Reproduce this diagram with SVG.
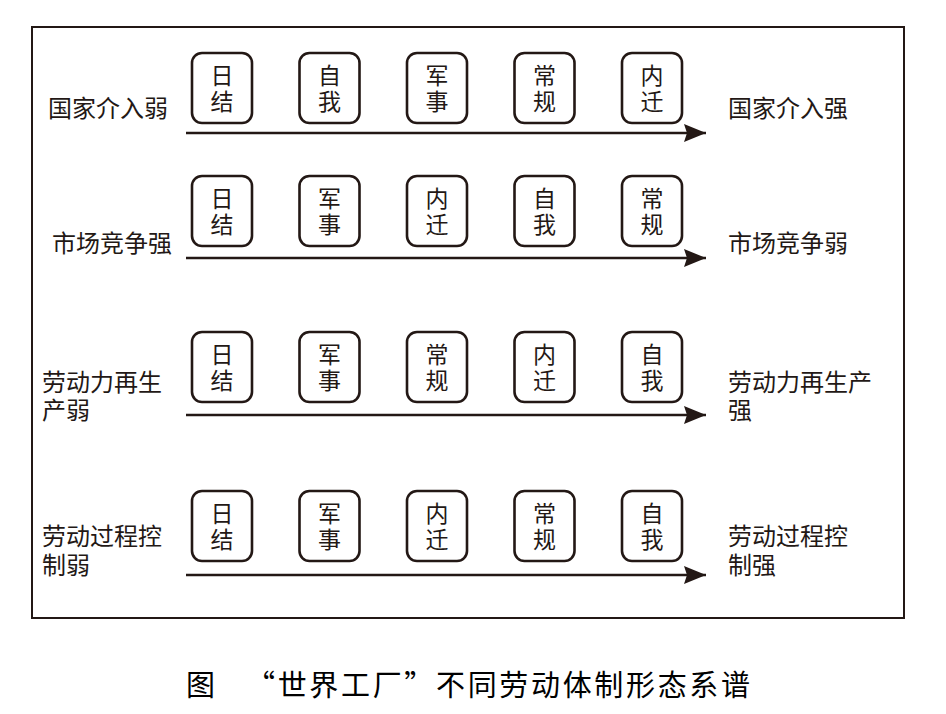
<svg xmlns="http://www.w3.org/2000/svg" width="946" height="714" viewBox="0 0 946 714">
<style>
.frame{fill:#fff;stroke:#231815;stroke-width:2}
.box rect{fill:#fff;stroke:#231815;stroke-width:2.6}
.box text{font-family:"Noto Sans CJK SC","Noto Sans",sans-serif;font-size:23px;fill:#231815;text-anchor:middle;writing-mode:vertical-rl;text-orientation:upright;letter-spacing:3px}
.lbl{font-family:"Noto Sans CJK SC","Noto Sans",sans-serif;font-size:24px;fill:#231815}
.conn line{stroke:#231815;stroke-width:2.6}
.cap{font-family:"Noto Sans CJK SC","Noto Sans",sans-serif;font-size:29px;fill:#000}
</style>
<defs>
<marker id="ah" markerUnits="userSpaceOnUse" markerWidth="24" markerHeight="20" viewBox="0 0 24 20" refX="23" refY="10" orient="auto">
<path d="M1,1 L23,10 L1,19 L4,10 Z" fill="#231815"/>
</marker>
</defs>
<rect width="946" height="714" fill="#fff"/>
<rect class="frame" x="32" y="27" width="872" height="591"/>

<g class="conn">
<line x1="186" y1="133" x2="706" y2="133" marker-end="url(#ah)"/>
<line x1="186" y1="258" x2="706" y2="258" marker-end="url(#ah)"/>
<line x1="186" y1="415" x2="706" y2="415" marker-end="url(#ah)"/>
<line x1="186" y1="575" x2="706" y2="575" marker-end="url(#ah)"/>
</g>

<!-- Row 1 -->
<g id="r1-left"><text class="lbl" x="48" y="117">国家介入弱</text></g>
<g id="r1-right"><text class="lbl" x="728" y="117">国家介入强</text></g>
<g id="r1-b1" class="box"><rect x="192" y="53" width="60" height="70" rx="10"/><text x="222" y="90">日结</text></g>
<g id="r1-b2" class="box"><rect x="299.5" y="53" width="60" height="70" rx="10"/><text x="329.5" y="90">自我</text></g>
<g id="r1-b3" class="box"><rect x="407" y="53" width="60" height="70" rx="10"/><text x="437" y="90">军事</text></g>
<g id="r1-b4" class="box"><rect x="514.5" y="53" width="60" height="70" rx="10"/><text x="544.5" y="90">常规</text></g>
<g id="r1-b5" class="box"><rect x="622" y="53" width="60" height="70" rx="10"/><text x="652" y="90">内迁</text></g>

<!-- Row 2 -->
<g id="r2-left"><text class="lbl" x="52" y="252">市场竞争强</text></g>
<g id="r2-right"><text class="lbl" x="728" y="252">市场竞争弱</text></g>
<g id="r2-b1" class="box"><rect x="192" y="176" width="60" height="70" rx="10"/><text x="222" y="213">日结</text></g>
<g id="r2-b2" class="box"><rect x="299.5" y="176" width="60" height="70" rx="10"/><text x="329.5" y="213">军事</text></g>
<g id="r2-b3" class="box"><rect x="407" y="176" width="60" height="70" rx="10"/><text x="437" y="213">内迁</text></g>
<g id="r2-b4" class="box"><rect x="514.5" y="176" width="60" height="70" rx="10"/><text x="544.5" y="213">自我</text></g>
<g id="r2-b5" class="box"><rect x="622" y="176" width="60" height="70" rx="10"/><text x="652" y="213">常规</text></g>

<!-- Row 3 -->
<g id="r3-left"><text class="lbl" x="42" y="391">劳动力再生</text><text class="lbl" x="42" y="419">产弱</text></g>
<g id="r3-right"><text class="lbl" x="728" y="391">劳动力再生产</text><text class="lbl" x="728" y="419">强</text></g>
<g id="r3-b1" class="box"><rect x="192" y="332" width="60" height="70" rx="10"/><text x="222" y="369">日结</text></g>
<g id="r3-b2" class="box"><rect x="299.5" y="332" width="60" height="70" rx="10"/><text x="329.5" y="369">军事</text></g>
<g id="r3-b3" class="box"><rect x="407" y="332" width="60" height="70" rx="10"/><text x="437" y="369">常规</text></g>
<g id="r3-b4" class="box"><rect x="514.5" y="332" width="60" height="70" rx="10"/><text x="544.5" y="369">内迁</text></g>
<g id="r3-b5" class="box"><rect x="622" y="332" width="60" height="70" rx="10"/><text x="652" y="369">自我</text></g>

<!-- Row 4 -->
<g id="r4-left"><text class="lbl" x="42" y="545">劳动过程控</text><text class="lbl" x="42" y="574">制弱</text></g>
<g id="r4-right"><text class="lbl" x="728" y="545">劳动过程控</text><text class="lbl" x="728" y="574">制强</text></g>
<g id="r4-b1" class="box"><rect x="192" y="491" width="60" height="70" rx="10"/><text x="222" y="528">日结</text></g>
<g id="r4-b2" class="box"><rect x="299.5" y="491" width="60" height="70" rx="10"/><text x="329.5" y="528">军事</text></g>
<g id="r4-b3" class="box"><rect x="407" y="491" width="60" height="70" rx="10"/><text x="437" y="528">内迁</text></g>
<g id="r4-b4" class="box"><rect x="514.5" y="491" width="60" height="70" rx="10"/><text x="544.5" y="528">常规</text></g>
<g id="r4-b5" class="box"><rect x="622" y="491" width="60" height="70" rx="10"/><text x="652" y="528">自我</text></g>

<g id="caption">
<text class="cap" x="186" y="696">图</text>
<text class="cap" x="246" y="696" textLength="504" lengthAdjust="spacing">“世界工厂”不同劳动体制形态系谱</text>
</g>
</svg>
